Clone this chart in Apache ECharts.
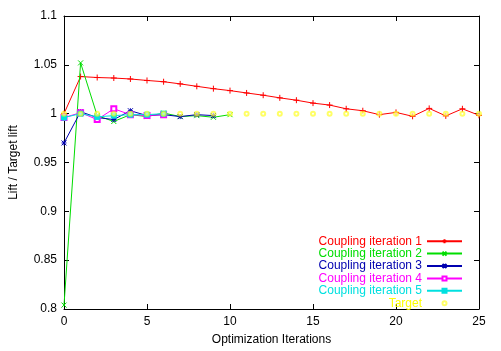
<!DOCTYPE html>
<html>
<head>
<meta charset="utf-8">
<script src="https://cdn.jsdelivr.net/npm/echarts@6/dist/echarts.min.js"></script>
<style>
  html, body { margin: 0; padding: 0; background: #fff; }
  #chart { width: 501px; height: 351px; }
</style>
</head>
<body>
<div id="chart"></div>
<script>
// data
var iter1 = [1.0, 1.038, 1.037, 1.0365, 1.0355, 1.034, 1.0327, 1.0305, 1.028, 1.0256, 1.0236, 1.0212, 1.0189,
             1.0162, 1.0138, 1.0108, 1.0088, 1.005, 1.003, 0.999, 1.0013, 0.9973, 1.0054, 0.9977, 1.005, 0.9983];
var iter2 = [0.804, 1.052, 0.998, 0.992, 0.999, 0.997, 1.0007, 0.997, 0.998, 0.9963, 0.999];
var iter3 = [0.970, 1.002, 0.996, 0.994, 1.003, 0.998, 0.999, 0.997, 0.999, 0.998];
var iter4 = [0.996, 1.001, 0.994, 1.005, 0.999, 0.998, 0.999];
var iter5 = [0.996, 1.0, 0.9967, 0.998, 0.999, 0.999, 1.0];
var target = [1, 1, 1, 1, 1, 1, 1, 1, 1, 1, 1, 1, 1, 1, 1, 1, 1, 1, 1, 1, 1, 1, 1, 1, 1, 1];

var names = ['Coupling iteration 1', 'Coupling iteration 2', 'Coupling iteration 3',
             'Coupling iteration 4', 'Coupling iteration 5', 'Target'];
var colors = ['#ff0000', '#00dd00', '#0000b0', '#ff00ff', '#00e0e0', '#ffff00'];

// marker shapes (gnuplot style)
var symPlus = 'path://M0,5L10,5M5,0L5,10';
var symCross = 'path://M0,0L10,10M0,10L10,0';
var symStar = 'path://M0,0L10,10M0,10L10,0M0,5L10,5M5,0L5,10';

function toXY(arr) {
  var out = [];
  for (var i = 0; i < arr.length; i++) out.push([i, arr[i]]);
  return out;
}

function lineSeries(idx, arr, symbol, size, extra) {
  var s = {
    name: names[idx],
    type: 'line',
    data: toXY(arr),
    symbol: symbol,
    symbolSize: size,
    showAllSymbol: true,
    animation: false,
    lineStyle: { color: colors[idx], width: 1 },
    itemStyle: { color: colors[idx], borderColor: colors[idx], borderWidth: 1 },
    z: idx + 2
  };
  if (extra) {
    for (var k in extra) s[k] = extra[k];
  }
  return s;
}

var myChart = echarts.init(document.getElementById('chart'), null, { renderer: 'canvas' });

var axisCommon = {
  axisLine: { show: true, onZero: false, lineStyle: { color: '#000', width: 1 } },
  axisTick: { show: true, inside: true, length: 5, lineStyle: { color: '#000' } },
  splitLine: { show: false }
};

var option = {
  backgroundColor: '#fff',
  textStyle: { fontFamily: 'Liberation Sans, Arial, sans-serif' },
  grid: { left: 63, right: 22, top: 16, bottom: 38, containLabel: false },
  xAxis: [
    Object.assign({
      type: 'value', min: 0, max: 25, interval: 5, position: 'bottom',
      name: 'Optimization Iterations', nameLocation: 'middle', nameGap: 25,
      nameTextStyle: { color: '#000', fontSize: 12 },
      axisLabel: { color: '#000', fontSize: 12, margin: 7 }
    }, axisCommon),
    Object.assign({
      type: 'value', min: 0, max: 25, interval: 5, position: 'top',
      axisLabel: { show: false }
    }, axisCommon)
  ],
  yAxis: [
    Object.assign({
      type: 'value', min: 0.8, max: 1.1, interval: 0.05, position: 'left',
      name: 'Lift / Target lift', nameLocation: 'middle', nameGap: 44, nameRotate: 90,
      nameTextStyle: { color: '#000', fontSize: 12 },
      axisLabel: { color: '#000', fontSize: 12, margin: 7 }
    }, axisCommon),
    Object.assign({
      type: 'value', min: 0.8, max: 1.1, interval: 0.05, position: 'right',
      axisLabel: { show: false }
    }, axisCommon)
  ],
  legend: {
    orient: 'vertical',
    right: 38,
    top: 235,
    padding: 0,
    align: 'right',
    itemWidth: 35,
    itemHeight: 5,
    itemGap: 0,
    textStyle: { fontSize: 12, lineHeight: 12.4 },
    data: names.map(function (n, i) {
      return { name: n, textStyle: { color: colors[i] } };
    })
  },
  series: [
    lineSeries(0, iter1, symPlus, 6),
    lineSeries(1, iter2, symCross, 5),
    lineSeries(2, iter3, symStar, 5),
    lineSeries(3, iter4, 'emptyRect', 5),
    lineSeries(4, iter5, 'rect', 5),
    lineSeries(5, target, 'emptyCircle', 4, {
      lineStyle: { color: colors[5], width: 0, opacity: 0 },
      itemStyle: { color: colors[5], borderColor: colors[5], borderWidth: 1, opacity: 0.6 }
    })
  ]
};

myChart.setOption(option);
</script>
</body>
</html>
